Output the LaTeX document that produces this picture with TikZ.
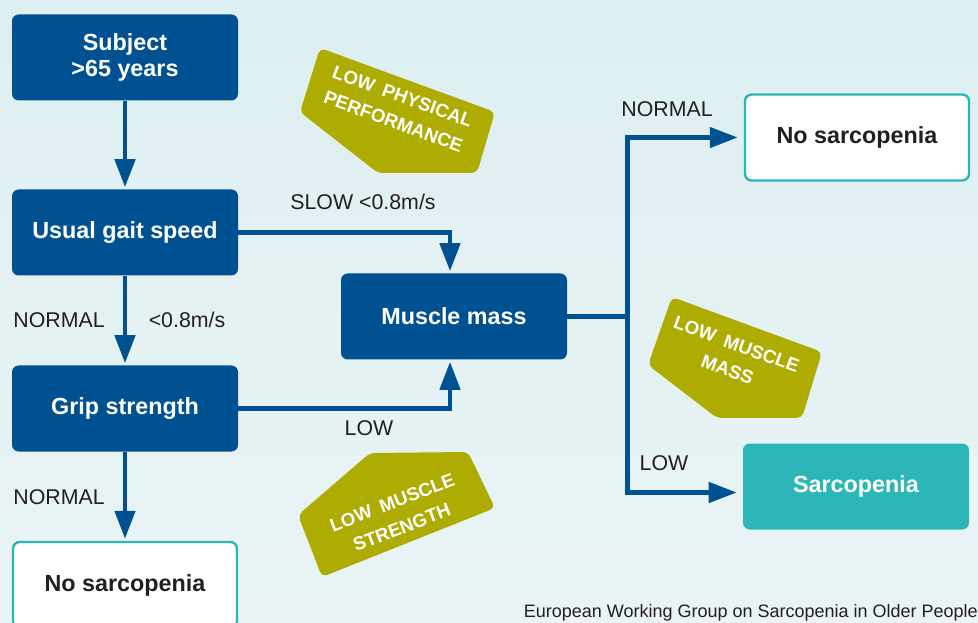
\documentclass[tikz,border=0pt]{standalone}
\usepackage{fontspec}
\setmainfont{Liberation Sans}
\usetikzlibrary{arrows.meta,calc}
\definecolor{ewblue}{RGB}{0,81,146}
\definecolor{ewteal}{RGB}{44,182,183}
\definecolor{ewolive}{RGB}{174,172,0}
\definecolor{ewink}{RGB}{35,31,32}
\definecolor{bgtop}{RGB}{221,239,241}
\definecolor{bgbot}{RGB}{234,244,246}
\begin{document}
\begin{tikzpicture}[x=0.75pt, y=-0.75pt,
    box/.style={rounded corners=5pt, minimum width=169.5pt,
      minimum height=64.5pt, align=center,
      font=\fontsize{17.5}{19.5}\selectfont\bfseries},
    bluebox/.style={box, fill=ewblue, text=white},
    whitebox/.style={box, fill=white, draw=ewteal, line width=1.8pt,
      minimum width=168pt, text=ewink},
    tealbox/.style={box, fill=ewteal, text=white},
    lbl/.style={text=ewink, inner sep=0pt, font=\fontsize{16}{18}\selectfont},
    tag/.style={fill=ewolive, rounded corners=4pt},
    tagtext/.style={text=white, align=center, inner sep=0pt,
      font=\fontsize{14}{20}\selectfont\bfseries}]
  \useasboundingbox (0,0) rectangle (978,623);
  \clip (0,0) rectangle (978,623);
  \shade[top color=bgtop, bottom color=bgbot] (0,0) rectangle (978,623);

  % olive tags
  \fill[tag] (320,48) -- (495,112) -- (477,173) -- (378,173) -- (300,112) -- cycle;
  \fill[tag] (672,297) -- (822,352) -- (802,418) -- (717,418) -- (648,365) -- cycle;
  \fill[tag] (370,453) -- (468,452) -- (495,508) -- (322,577) -- (298,515) -- cycle;
  \node[tagtext, rotate=-20] (tperf) at (398,109) {LOW\enspace PHYSICAL\\PERFORMANCE};
  \node[tagtext, rotate=-20] (tmass) at (732,357) {LOW\enspace MUSCLE\\MASS};
  \node[tagtext, rotate=21] (tstr) at (397,515) {LOW\enspace MUSCLE\\STRENGTH};

  % boxes
  \node[bluebox] (subject) at (125,57.5) {Subject\\>65 years};
  \node[bluebox] (gait) at (125,232.5) {Usual gait speed};
  \node[bluebox] (grip) at (125,408.5) {Grip strength};
  \node[whitebox] (nosarcA) at (125,585) {No sarcopenia};
  \node[bluebox] (muscle) at (454,316.5) {Muscle mass};
  \node[whitebox] (nosarcB) at (857,137.5) {No sarcopenia};
  \node[tealbox] (sarco) at (856,486.5) {Sarcopenia};
  \coordinate (split) at ($(muscle.east)+(60,0)$);

  % labels
  \node[lbl] (lslow) at (363,202) {SLOW <0.8m/s};
  \node[lbl] (lnormA) at (59,320) {NORMAL};
  \node[lbl] (lspeed) at (187,320) {<0.8m/s};
  \node[lbl] (llowA) at (369,428) {LOW};
  \node[lbl] (lnormB) at (59,497) {NORMAL};
  \node[lbl] (lnormC) at (667,109) {NORMAL};
  \node[lbl] (llowB) at (664,463) {LOW};

  \begin{scope}[draw=ewblue, line width=3.4pt,
      -{Triangle[length=21pt,width=15pt]}, shorten >=1.5pt]
    \draw (subject) -- (gait);
    \draw (gait) -- (grip);
    \draw (grip) -- (nosarcA);
    \draw (gait.east) -| ($(muscle.north)+(-4,0)$);
    \draw (grip.east) -| ($(muscle.south)+(-4,0)$);
    \draw[-, shorten >=0pt] (muscle.east) -- (split);
    \draw[shorten >=4.5pt] (split) |- (nosarcB.west);
    \draw[shorten >=4.5pt] (split) |- ($(sarco.west)+(0,6)$);
  \end{scope}

  \node[text=ewink, anchor=east, inner sep=0pt,
    font=\fontsize{13.5}{15}\selectfont] (credit) at (978,613)
    {European Working Group on Sarcopenia in Older People};
\end{tikzpicture}
\end{document}
